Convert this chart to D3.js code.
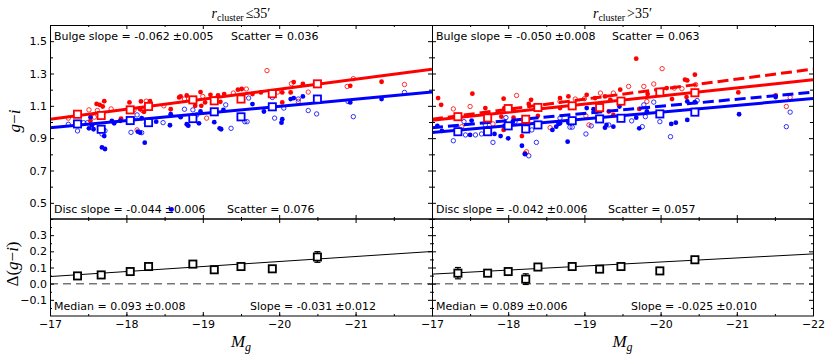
<!DOCTYPE html>
<html>
<head>
<meta charset="utf-8">
<script src="https://cdn.jsdelivr.net/npm/d3@7"></script>
<style>
body { margin: 0; background: #fff; }
text { font-family: "DejaVu Sans", sans-serif; font-size: 11px; fill: #000; }
.math { font-family: "Liberation Serif", "DejaVu Serif", serif; }
</style>
</head>
<body>
<svg id="chart" width="830" height="356"></svg>
<script>
// ---- data: [M_g, g-i] ----
var innerBulgeFilled = [
    [-17.61,1.112],[-17.65,1.106],[-17.71,1.129],[-17.69,1.096],[-17.53,1.007],[-17.93,1.021],
    [-18.04,1.121],[-18.05,1.069],[-18.19,1.127],[-18.18,1.079],[-18.23,1.063],[-18.31,1.129],
    [-18.58,1.079],[-18.69,1.152],[-18.71,1.158],[-18.79,1.164],[-18.97,1.185],[-19.10,1.168],
    [-18.90,1.100],[-18.98,1.100],[-19.20,1.164],[-19.23,1.125],[-19.28,1.173],[-19.46,1.200],
    [-19.51,1.204],[-19.65,1.173],[-19.76,1.183],[-20.04,1.183],[-20.04,1.121],[-20.15,1.183],
    [-20.19,1.247],[-20.31,1.235],[-19.03,1.121],[-20.93,1.224],[-21.34,1.249]
];
var innerBulgeOpen = [
    [-17.24,1.024],[-17.51,1.075],[-17.62,1.071],[-17.58,1.030],[-17.80,1.081],[-18.10,1.075],
    [-18.21,1.071],[-18.26,1.129],[-18.14,0.951],[-18.49,1.100],[-18.76,1.142],[-19.00,1.158],
    [-19.40,1.179],[-19.57,1.204],[-19.98,1.185],[-20.16,1.237],[-20.25,1.127],[-19.84,1.318],
    [-19.05,1.024],[-20.38,1.185],[-20.89,1.220],[-20.97,1.268],[-21.64,1.232]
];
var innerDiscFilled = [
    [-17.53,1.030],[-17.51,0.961],[-17.57,0.955],[-17.55,0.980],[-17.70,0.951],[-17.71,0.913],
    [-17.81,1.007],[-17.84,0.992],[-17.92,1.007],[-18.09,1.017],[-18.15,0.940],[-18.18,0.934],
    [-18.20,1.024],[-18.24,0.872],[-17.68,0.843],[-17.72,0.833],[-18.58,1.048],[-18.57,0.980],
    [-18.39,1.002],[-18.71,1.030],[-18.79,0.986],[-18.81,0.977],[-18.95,0.992],[-18.97,1.065],
    [-19.15,0.999],[-19.22,0.961],[-19.24,0.955],[-19.27,1.075],[-19.51,1.024],[-19.65,1.111],
    [-19.80,1.065],[-20.03,0.996],[-20.04,1.017],[-20.15,1.142],[-20.19,1.148],[-20.31,1.158],
    [-20.93,1.121],[-21.34,1.142],[-18.59,0.459]
];
var innerDiscOpen = [
    [-17.24,0.986],[-17.36,0.945],[-17.44,0.996],[-17.49,0.996],[-17.72,0.946],[-17.68,0.926],
    [-18.06,0.936],[-18.20,0.934],[-18.14,1.044],[-18.26,0.992],[-18.48,0.996],[-18.76,1.079],
    [-18.87,1.075],[-18.92,1.044],[-19.30,1.106],[-19.37,0.961],[-19.48,1.033],[-19.55,1.002],
    [-19.58,1.002],[-19.60,1.148],[-19.91,1.152],[-19.94,1.024],[-20.06,1.086],[-20.25,1.142],
    [-20.38,1.071],[-20.49,1.050],[-20.90,1.127],[-20.97,1.033],[-21.64,1.183]
];

var outerBulgeFilled = [
    [-17.08,1.148],[-17.12,1.106],[-17.53,1.175],[-17.70,1.086],[-17.94,1.144],[-17.95,1.086],
    [-18.07,1.075],[-18.30,1.137],[-18.27,1.112],[-18.20,1.013],[-18.18,0.913],[-18.22,0.806],
    [-17.91,1.033],[-18.07,1.027],[-17.94,0.951],[-18.39,1.038],[-18.68,1.086],[-18.68,1.148],
    [-18.79,1.158],[-19.03,1.168],[-19.14,1.148],[-19.27,1.158],[-19.34,1.137],[-19.47,1.200],
    [-19.68,1.392],[-19.72,1.081],[-19.83,1.173],[-20.08,1.210],[-20.15,1.142],[-20.32,1.262],
    [-19.16,1.065],[-19.32,1.065],[-19.38,1.044],[-20.35,1.257],[-20.45,1.293],[-20.34,1.154],
    [-21.02,1.183],[-21.51,1.164]
];
var outerBulgeOpen = [
    [-17.28,1.081],[-17.50,1.096],[-17.39,0.971],[-17.74,1.033],[-17.80,0.988],[-18.11,1.164],
    [-18.24,0.816],[-18.31,1.086],[-18.55,0.965],[-18.68,1.127],[-18.88,1.142],[-19.00,1.144],
    [-19.21,1.179],[-19.38,1.179],[-19.58,1.220],[-19.78,1.220],[-19.91,1.235],[-20.02,1.330],
    [-19.82,1.127],[-20.18,1.210],[-20.28,1.206],[-19.06,0.982],[-19.02,1.038],[-20.46,1.231],
    [-21.65,1.096],[-21.70,1.152]
];
var outerDiscFilled = [
    [-17.13,0.945],[-17.07,0.976],[-17.50,0.920],[-17.52,1.009],[-17.82,0.926],[-17.90,0.913],
    [-17.95,0.976],[-18.18,0.853],[-18.22,0.801],[-18.06,1.002],[-18.58,0.951],[-18.63,0.971],
    [-18.68,0.992],[-18.00,0.899],[-18.66,0.988],[-18.79,0.996],[-19.03,1.086],[-19.12,1.079],
    [-19.29,0.982],[-19.38,0.971],[-19.27,0.965],[-19.46,1.096],[-19.68,1.027],[-19.72,0.961],
    [-19.82,1.065],[-20.14,0.988],[-20.20,0.996],[-18.78,0.878],[-20.35,1.013],[-20.35,1.127],
    [-20.45,1.123],[-21.03,1.048],[-21.51,1.154]
];
var outerDiscOpen = [
    [-17.28,0.884],[-17.42,1.002],[-17.44,0.920],[-17.57,0.920],[-17.65,0.926],[-17.70,0.982],
    [-17.80,0.874],[-18.09,1.002],[-17.97,1.027],[-18.27,0.791],[-18.37,0.874],[-18.31,0.951],
    [-18.68,1.024],[-18.81,0.968],[-18.84,0.968],[-19.02,0.926],[-19.09,0.976],[-19.32,0.982],
    [-19.62,1.007],[-19.76,0.971],[-19.80,1.033],[-19.91,1.123],[-19.99,1.002],[-20.13,0.909],
    [-19.78,1.106],[-20.48,1.133],[-21.70,1.061],[-21.65,0.971]
];

// binned medians
var innerBinMag   = [-17.36,-17.67,-18.05,-18.29,-18.87,-19.15,-19.50,-19.91,-20.50];
var innerBulgeBin = [1.048,1.040,1.075,1.096,1.137,1.131,1.142,1.175,1.236];
var innerDiscBin  = [0.988,0.955,1.009,0.996,1.021,1.063,1.032,1.094,1.142];
var innerDelta    = [0.048,0.054,0.075,0.106,0.121,0.086,0.106,0.092,0.165];
var innerDeltaErr = [0.010,0.010,0.010,0.012,0.012,0.015,0.010,0.018,0.033];

var outerBinMag   = [-17.34,-17.73,-18.00,-18.23,-18.39,-18.84,-19.20,-19.48,-19.99,-20.45];
var outerBulgeBin = [1.033,1.025,1.083,1.017,1.090,1.100,1.089,1.129,1.185,1.181];
var outerDiscBin  = [0.940,0.940,0.976,0.957,0.982,1.008,1.019,1.023,1.050,1.061];
var outerDelta    = [0.065,0.065,0.075,0.028,0.103,0.106,0.090,0.106,0.079,0.148];
var outerDeltaErr = [0.035,0.010,0.010,0.033,0.010,0.010,0.010,0.010,0.016,0.010];

// linear fits: [value at M_g = -17, slope]
var innerBulgeFit = [1.017, -0.062];
var innerDiscFit  = [0.965, -0.044];
var innerDeltaFit = [0.044, -0.031];
var outerBulgeFit = [1.011, -0.050];
var outerDiscFit  = [0.935, -0.042];
var outerDeltaFit = [0.059, -0.025];

var xMajor = [-17, -18, -19, -20, -21, -22];
var xMinor = [-17.5, -18.5, -19.5, -20.5, -21.5];
var yTopLabelled = [0.5, 0.7, 0.9, 1.1, 1.3, 1.5];
var yTopOther = [0.4, 0.6, 0.8, 1.0, 1.2, 1.4, 1.6];
var yBotMajor = [-0.1, 0.0, 0.1, 0.2, 0.3];
var yBotMinor = [-0.15, -0.05, 0.05, 0.15, 0.25, 0.35];

var RED = "#ff0000", BLUE = "#0000ff";

var svg = d3.select("#chart");
var yTop = d3.scaleLinear().domain([0.4, 1.6]).range([219, 25]);
var yBot = d3.scaleLinear().domain([-0.2, 0.4]).range([316, 219]);

var panels = [
    { x0: 50, x1: 432, id: "in", showY: true, xLabels: [-17, -18, -19, -20, -21],
      bulgeF: innerBulgeFilled, bulgeO: innerBulgeOpen, discF: innerDiscFilled, discO: innerDiscOpen,
      binMag: innerBinMag, bulgeBin: innerBulgeBin, discBin: innerDiscBin, delta: innerDelta, deltaErr: innerDeltaErr,
      bulgeFit: innerBulgeFit, discFit: innerDiscFit, deltaFit: innerDeltaFit, dashed: null,
      title: "\u226435\u2032", bulgeTxt: ["-0.062", "0.005", "0.036"], discTxt: ["-0.044", "0.006", "0.076"],
      medTxt: ["0.093", "0.008"], slopeTxt: ["-0.031", "0.012"], scatterX: 231, discScatterX: 227, slopeX: 250 },
    { x0: 432, x1: 813, id: "out", showY: false, xLabels: [-17, -18, -19, -20, -21, -22],
      bulgeF: outerBulgeFilled, bulgeO: outerBulgeOpen, discF: outerDiscFilled, discO: outerDiscOpen,
      binMag: outerBinMag, bulgeBin: outerBulgeBin, discBin: outerDiscBin, delta: outerDelta, deltaErr: outerDeltaErr,
      bulgeFit: outerBulgeFit, discFit: outerDiscFit, deltaFit: outerDeltaFit, dashed: [innerBulgeFit, innerDiscFit],
      title: ">35\u2032", bulgeTxt: ["-0.050", "0.008", "0.063"], discTxt: ["-0.042", "0.006", "0.057"],
      medTxt: ["0.089", "0.006"], slopeTxt: ["-0.025", "0.010"], scatterX: 612, discScatterX: 608, slopeX: 631 }
];

function fitLine(g, x, y, fit, color, width, dash) {
    var ends = [-17, -22];
    g.append("line")
        .attr("x1", x(ends[0])).attr("y1", y(fit[0]))
        .attr("x2", x(ends[1])).attr("y2", y(fit[0] + fit[1] * (ends[1] + 17)))
        .attr("stroke", color).attr("stroke-width", width)
        .attr("stroke-dasharray", dash || null);
}

function dots(g, x, y, data, color, filled) {
    g.selectAll(null).data(data).enter().append("circle")
        .attr("cx", function(d) { return x(d[0]); })
        .attr("cy", function(d) { return y(d[1]); })
        .attr("r", filled ? 2.4 : 2.2)
        .attr("fill", filled ? color : "none")
        .attr("stroke", filled ? "none" : color)
        .attr("stroke-width", 0.8);
}

function squares(g, x, y, mags, vals, color) {
    g.selectAll(null).data(mags).enter().append("rect")
        .attr("x", function(d) { return x(d) - 3.6; })
        .attr("y", function(d, i) { return y(vals[i]) - 3.6; })
        .attr("width", 7.2).attr("height", 7.2)
        .attr("fill", "#fff").attr("stroke", color).attr("stroke-width", 1.8);
}

function axisPart(parent, axis, tx, ty) {
    var a = parent.append("g").attr("transform", "translate(" + tx + "," + ty + ")").call(axis);
    a.select(".domain").remove();
    a.attr("font-family", null).attr("font-size", null);
    return a;
}

function stat(g, xPos, yPos, label, v, e) {
    var t = g.append("text").attr("x", xPos).attr("y", yPos);
    t.append("tspan").text(label + " = " + v);
    t.append("tspan").attr("dx", 3).text("\u00b1" + e);
}

panels.forEach(function(p) {
    var x = d3.scaleLinear().domain([-17, -22]).range([p.x0, p.x1]);
    var g = svg.append("g");

    svg.append("clipPath").attr("id", "clipTop-" + p.id).append("rect")
        .attr("x", p.x0).attr("y", 25).attr("width", p.x1 - p.x0).attr("height", 194);
    svg.append("clipPath").attr("id", "clipBot-" + p.id).append("rect")
        .attr("x", p.x0).attr("y", 219).attr("width", p.x1 - p.x0).attr("height", 97);

    // annotations (under the points)
    stat(g, p.x0 + 4, 40, "Bulge slope", p.bulgeTxt[0], p.bulgeTxt[1]);
    g.append("text").attr("x", p.scatterX).attr("y", 40).text("Scatter = " + p.bulgeTxt[2]);
    stat(g, p.x0 + 4, 213, "Disc slope", p.discTxt[0], p.discTxt[1]);
    g.append("text").attr("x", p.discScatterX).attr("y", 213).text("Scatter = " + p.discTxt[2]);
    stat(g, p.x0 + 4, 310, "Median", p.medTxt[0], p.medTxt[1]);
    stat(g, p.slopeX, 310, "Slope", p.slopeTxt[0], p.slopeTxt[1]);

    // top panel
    var top = g.append("g").attr("clip-path", "url(#clipTop-" + p.id + ")");
    dots(top, x, yTop, p.bulgeO, RED, false);
    dots(top, x, yTop, p.discO, BLUE, false);
    dots(top, x, yTop, p.bulgeF, RED, true);
    dots(top, x, yTop, p.discF, BLUE, true);
    if (p.dashed) {
        fitLine(top, x, yTop, p.dashed[0], RED, 3, "11,5");
        fitLine(top, x, yTop, p.dashed[1], BLUE, 3, "11,5");
    }
    fitLine(top, x, yTop, p.bulgeFit, RED, 3);
    fitLine(top, x, yTop, p.discFit, BLUE, 3);
    squares(top, x, yTop, p.binMag, p.bulgeBin, RED);
    squares(top, x, yTop, p.binMag, p.discBin, BLUE);

    // bottom panel
    var bot = g.append("g").attr("clip-path", "url(#clipBot-" + p.id + ")");
    bot.append("line")
        .attr("x1", x(-17)).attr("x2", x(-22)).attr("y1", yBot(0)).attr("y2", yBot(0))
        .attr("stroke", "#777").attr("stroke-width", 1.5).attr("stroke-dasharray", "8,5");
    fitLine(bot, x, yBot, p.deltaFit, "#000", 1);
    var eb = bot.selectAll(null).data(p.binMag).enter().append("g");
    eb.append("line")
        .attr("x1", function(d) { return x(d); }).attr("x2", function(d) { return x(d); })
        .attr("y1", function(d, i) { return yBot(p.delta[i] - p.deltaErr[i]); })
        .attr("y2", function(d, i) { return yBot(p.delta[i] + p.deltaErr[i]); })
        .attr("stroke", "#000").attr("stroke-width", 1.2);
    [-1, 1].forEach(function(s) {
        eb.append("line")
            .attr("x1", function(d) { return x(d) - 3; }).attr("x2", function(d) { return x(d) + 3; })
            .attr("y1", function(d, i) { return yBot(p.delta[i] + s * p.deltaErr[i]); })
            .attr("y2", function(d, i) { return yBot(p.delta[i] + s * p.deltaErr[i]); })
            .attr("stroke", "#000").attr("stroke-width", 1.2);
    });
    squares(bot, x, yBot, p.binMag, p.delta, "#000");

    // ticks
    var noLab = function() { return ""; };
    [[d3.axisTop, 25], [d3.axisBottom, 219], [d3.axisTop, 219]].forEach(function(s) {
        axisPart(g, s[0](x).tickValues(xMajor).tickSize(-4).tickFormat(noLab), 0, s[1]);
        axisPart(g, s[0](x).tickValues(xMinor).tickSize(-2).tickFormat(noLab), 0, s[1]);
    });
    axisPart(g, d3.axisBottom(x).tickValues(p.xLabels).tickSize(-4).tickPadding(4)
        .tickFormat(d3.format("d")), 0, 316);
    axisPart(g, d3.axisBottom(x).tickValues(xMajor.concat(xMinor)).tickSize(-2).tickFormat(noLab), 0, 316);

    axisPart(g, d3.axisLeft(yTop).tickValues(yTopLabelled).tickSize(-4).tickPadding(3)
        .tickFormat(p.showY ? d3.format(".1f") : noLab), p.x0, 0);
    axisPart(g, d3.axisLeft(yTop).tickValues(yTopOther).tickSize(-3).tickFormat(noLab), p.x0, 0);
    axisPart(g, d3.axisRight(yTop).tickValues(yTopLabelled).tickSize(-4).tickFormat(noLab), p.x1, 0);
    axisPart(g, d3.axisRight(yTop).tickValues(yTopOther).tickSize(-3).tickFormat(noLab), p.x1, 0);
    axisPart(g, d3.axisLeft(yBot).tickValues(yBotMajor).tickSize(-4).tickPadding(3)
        .tickFormat(p.showY ? d3.format(".1f") : noLab), p.x0, 0);
    axisPart(g, d3.axisLeft(yBot).tickValues(yBotMinor).tickSize(-2).tickFormat(noLab), p.x0, 0);
    axisPart(g, d3.axisRight(yBot).tickValues(yBotMajor).tickSize(-4).tickFormat(noLab), p.x1, 0);
    axisPart(g, d3.axisRight(yBot).tickValues(yBotMinor).tickSize(-2).tickFormat(noLab), p.x1, 0);

    // frames
    g.append("rect").attr("x", p.x0 + 0.5).attr("y", 25.5).attr("width", p.x1 - p.x0).attr("height", 193.5)
        .attr("fill", "none").attr("stroke", "#000");
    g.append("rect").attr("x", p.x0 + 0.5).attr("y", 219).attr("width", p.x1 - p.x0).attr("height", 97)
        .attr("fill", "none").attr("stroke", "#000");

    // titles and x label
    var cx = (p.x0 + p.x1) / 2;
    var ti = g.append("text").attr("class", "math").attr("x", cx).attr("y", 18)
        .attr("text-anchor", "middle").style("font-size", "14px");
    ti.append("tspan").style("font-style", "italic").text("r");
    ti.append("tspan").attr("dy", 3).style("font-size", "10px").text("cluster");
    ti.append("tspan").attr("dy", -3).attr("dx", 2).text(p.title);

    var xl = g.append("text").attr("class", "math").attr("x", cx).attr("y", 347)
        .attr("text-anchor", "middle").style("font-size", "17px").style("font-style", "italic");
    xl.append("tspan").text("M");
    xl.append("tspan").attr("dy", 4).style("font-size", "12px").text("g");
});

// y labels
var yl = svg.append("text").attr("class", "math").attr("transform", "translate(20,121) rotate(-90)")
    .attr("text-anchor", "middle").style("font-size", "17px");
yl.append("tspan").style("font-style", "italic").text("g");
yl.append("tspan").text("\u2212");
yl.append("tspan").style("font-style", "italic").text("i");

var dl = svg.append("text").attr("class", "math").attr("transform", "translate(18,264) rotate(-90)")
    .attr("text-anchor", "middle").style("font-size", "17px");
dl.append("tspan").text("\u0394(");
dl.append("tspan").style("font-style", "italic").text("g");
dl.append("tspan").text("\u2212");
dl.append("tspan").style("font-style", "italic").text("i");
dl.append("tspan").text(")");
</script>
</body>
</html>
